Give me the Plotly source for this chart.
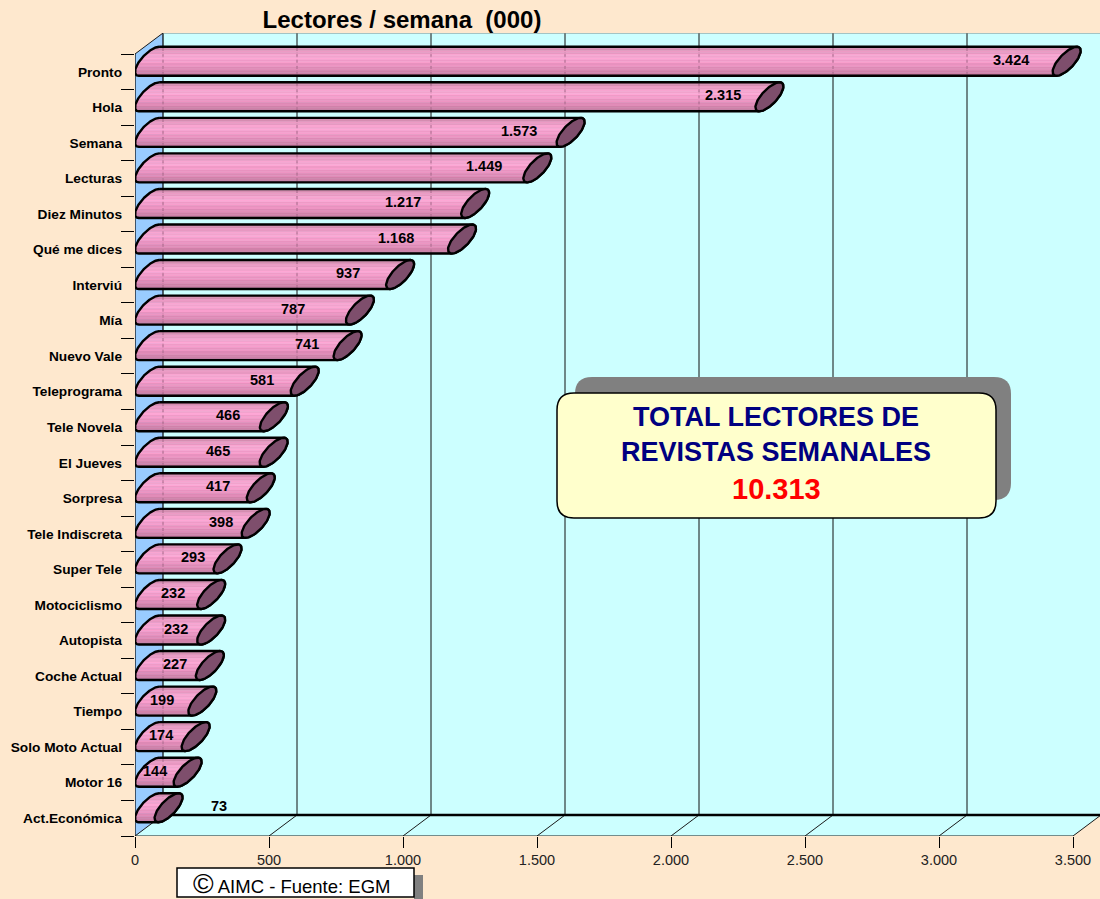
import numpy as np
import plotly.graph_objects as go

# ---------------- data ----------------
CATEGORIES = ["Pronto", "Hola", "Semana", "Lecturas", "Diez Minutos", "Qué me dices",
              "Interviú", "Mía", "Nuevo Vale", "Teleprograma", "Tele Novela", "El Jueves",
              "Sorpresa", "Tele Indiscreta", "Super Tele", "Motociclismo", "Autopista",
              "Coche Actual", "Tiempo", "Solo Moto Actual", "Motor 16", "Act.Económica"]
READERS = [3424, 2315, 1573, 1449, 1217, 1168, 937, 787, 741, 581, 466, 465,
           417, 398, 293, 232, 232, 227, 199, 174, 144, 73]
X_TICKS = [0, 500, 1000, 1500, 2000, 2500, 3000, 3500]
X_TICK_TEXT = ["0", "500", "1.000", "1.500", "2.000", "2.500", "3.000", "3.500"]
TITLE = "Lectores / semana \u00a0(000)"
BOX_LINES = ["TOTAL LECTORES DE", "REVISTAS SEMANALES"]
TOTAL_TEXT = "10.313"
SOURCE_TEXT = "AIMC - Fuente: EGM"

# label placement nudges (pixels back from bar end) - style only
LABEL_BACK_PX = [42, 32, 38, 39, 58, 52, 38, 53, 27, 29, 32, 42, 29, 21, 21, 24, 21, 21, 26, 21, 19, -64]

# ---------------- geometry ----------------
W, H = 1100, 899
ML, MR, MT, MB = 135, 0, 33, 63
PXX = (1073 - 135) / 3500.0          # px per value unit
NCAT = len(CATEGORIES)
PXU = (836 - 54) / NCAT               # px per category unit
XMAX = (W - ML - MR) / PXX
DX = 28 / PXX                         # depth offset in x units
DU = 21 / PXU                         # depth offset in category units (upwards)
UTOP = -DU

FONT = "Liberation Sans, Arial, sans-serif"


def px2paper(px, py):
    return (px - ML) / (W - ML - MR), (H - MB - py) / (H - MT - MB)


# cylinder cross-section
h = 0.5 * DU
A = 10.0 / PXU
R = np.hypot(h, A)
t1 = np.arctan2(-h, A)


def ell(t):
    return 0.5 * DX + 0.5 * DX * np.sin(t), -h - h * np.sin(t) + A * np.cos(t)


tl = np.linspace(t1 + np.pi, t1 + 2 * np.pi, 90)
left_x, left_u = ell(tl)                 # top -> bottom
tr = np.linspace(t1, t1 + np.pi, 90)
right_x, right_u = ell(tr)               # bottom -> top
rx_inc, ru_inc = right_x[::-1], right_u[::-1]
tc = np.linspace(0, 2 * np.pi, 90)
cap_x, cap_u = ell(tc)

# gradient profile (top -> bottom)
prof_pos = [0.0, 0.15, 0.35, 0.5, 0.7, 0.85, 1.0]
prof_rgb = [(0xC9, 0x86, 0xA6), (0xE6, 0x96, 0xBF), (0xF8, 0xA6, 0xD2), (0xF5, 0x9C, 0xCA),
            (0xE4, 0x8E, 0xBB), (0xD4, 0x84, 0xAC), (0xB8, 0x74, 0x98)]
NS = 16
levels = np.linspace(-h - R, -h + R, NS + 1)

fig = go.Figure()

for j in range(NS):
    f = (j + 0.5) / NS
    rgb = [np.interp(f, prof_pos, [c[k] for c in prof_rgb]) for k in range(3)]
    m = 1.03 if j % 2 == 0 else 0.98
    rgb = [int(max(0, min(255, c * m))) for c in rgb]
    col = "rgb(%d,%d,%d)" % tuple(rgb)
    ul = np.linspace(levels[j], levels[j + 1], 6)
    xl = np.interp(ul, left_u, left_x)
    xr = np.interp(ul, ru_inc, rx_inc)
    xs, us = [], []
    for i, v in enumerate(READERS):
        c = i + 0.5
        xs += list(xl) + list((xr + v)[::-1]) + [None]
        us += list(ul + c) + list((ul + c)[::-1]) + [None]
    fig.add_trace(go.Scatter(x=xs, y=us, mode="lines", fill="toself", fillcolor=col,
                             line=dict(color=col, width=0.8), hoverinfo="skip", showlegend=False))

# dotted grid seen through bars
dx_, du_ = [], []
for i, v in enumerate(READERS):
    c = i + 0.5
    for k in range(7):
        gx = 500 * k + DX
        if v > gx:
            dx_ += [gx, gx, None]
            du_ += [c - h - R + 0.03, c - h + R - 0.03, None]
fig.add_trace(go.Scatter(x=dx_, y=du_, mode="lines", line=dict(color="#A86A8C", width=1, dash="dot"),
                         hoverinfo="skip", showlegend=False))

# body outlines
ox, ou = [], []
for i, v in enumerate(READERS):
    c = i + 0.5
    ox += list(left_x) + list(right_x + v) + [left_x[0], None]
    ou += list(left_u + c) + list(right_u + c) + [left_u[0] + c, None]
fig.add_trace(go.Scatter(x=ox, y=ou, mode="lines", line=dict(color="black", width=2.4),
                         hoverinfo="skip", showlegend=False))

# end caps
cx, cu = [], []
for i, v in enumerate(READERS):
    c = i + 0.5
    cx += list(cap_x + v) + [None]
    cu += list(cap_u + c) + [None]
fig.add_trace(go.Scatter(x=cx, y=cu, mode="lines", fill="toself", fillcolor="#7E4E6C",
                         line=dict(color="black", width=2.4), hoverinfo="skip", showlegend=False))

# value labels
for i, v in enumerate(READERS):
    fig.add_annotation(x=v - LABEL_BACK_PX[i] / PXX, y=i + 0.5 - h - 0.04, xref="x", yref="y",
                       text="<b>%s</b>" % f"{v:,}".replace(",", "."), showarrow=False,
                       font=dict(family=FONT, size=14.5, color="black"),
                       xanchor="center", yanchor="middle")

# ---------------- walls / floor shapes ----------------
shapes = []
BACK = "#CCFFFF"
shapes.append(dict(type="rect", xref="x", yref="y", x0=DX, x1=XMAX + 50, y0=UTOP, y1=NCAT - DU,
                   fillcolor=BACK, line=dict(width=0), layer="below"))
shapes.append(dict(type="path", xref="x", yref="y",
                   path="M %f,%f L %f,%f L %f,%f L %f,%f Z" % (0, NCAT, 3500, NCAT, 3500 + DX, NCAT - DU, DX, NCAT - DU),
                   fillcolor=BACK, line=dict(width=0), layer="below"))
shapes.append(dict(type="path", xref="x", yref="y",
                   path="M %f,%f L %f,%f L %f,%f L %f,%f Z" % (0, 0, DX, -DU, DX, NCAT - DU, 0, NCAT),
                   fillcolor="#99CCFF", line=dict(width=0), layer="below"))
# back wall grid lines
for k in range(1, 7):
    gx = 500 * k + DX
    shapes.append(dict(type="line", xref="x", yref="y", x0=gx, x1=gx, y0=UTOP, y1=NCAT - DU,
                       line=dict(color="#111111", width=1), layer="below"))
# floor diagonals
for k in range(0, 8):
    shapes.append(dict(type="line", xref="x", yref="y", x0=500 * k, x1=500 * k + DX, y0=NCAT, y1=NCAT - DU,
                       line=dict(color="#1A1A1A", width=1), layer="below"))
# back edges
shapes.append(dict(type="line", xref="x", yref="y", x0=DX, x1=DX, y0=UTOP, y1=NCAT - DU,
                   line=dict(color="black", width=1.2), layer="below"))
shapes.append(dict(type="line", xref="x", yref="y", x0=DX, x1=XMAX + 50, y0=NCAT - DU, y1=NCAT - DU,
                   line=dict(color="black", width=2.5), layer="below"))
shapes.append(dict(type="line", xref="x", yref="y", x0=DX, x1=XMAX + 50, y0=UTOP, y1=UTOP,
                   line=dict(color="#7A8A8A", width=1), layer="below"))
shapes.append(dict(type="line", xref="x", yref="y", x0=0, x1=DX, y0=0, y1=-DU,
                   line=dict(color="#1A1A1A", width=1), layer="below"))
shapes.append(dict(type="line", xref="x", yref="y", x0=0, x1=0, y0=0, y1=NCAT,
                   line=dict(color="black", width=1.2), layer="below"))
shapes.append(dict(type="line", xref="x", yref="y", x0=0, x1=3500, y0=NCAT, y1=NCAT,
                   line=dict(color="#1A1A1A", width=1), layer="below"))


def rr_path(x0, y0, x1, y1, r):
    def P(px, py):
        a, b = px2paper(px, py)
        return "%f,%f" % (a, b)
    return ("M " + P(x0 + r, y0) + " L " + P(x1 - r, y0) + " Q " + P(x1, y0) + " " + P(x1, y0 + r) +
            " L " + P(x1, y1 - r) + " Q " + P(x1, y1) + " " + P(x1 - r, y1) +
            " L " + P(x0 + r, y1) + " Q " + P(x0, y1) + " " + P(x0, y1 - r) +
            " L " + P(x0, y0 + r) + " Q " + P(x0, y0) + " " + P(x0 + r, y0) + " Z")


# total box
shapes.append(dict(type="path", xref="paper", yref="paper", path=rr_path(575, 377, 1011, 500, 17),
                   fillcolor="#808080", line=dict(width=0), layer="above"))
shapes.append(dict(type="path", xref="paper", yref="paper", path=rr_path(557, 393, 996, 518, 17),
                   fillcolor="#FFFFCC", line=dict(color="black", width=1.5), layer="above"))
# source box
a0, b0 = px2paper(414, 875)
a1, b1 = px2paper(423, 899)
shapes.append(dict(type="rect", xref="paper", yref="paper", x0=a0, x1=a1, y0=b1, y1=b0,
                   fillcolor="#808080", line=dict(width=0), layer="above"))
a0, b0 = px2paper(177, 868)
a1, b1 = px2paper(414, 897)
shapes.append(dict(type="rect", xref="paper", yref="paper", x0=a0, x1=a1, y0=b1, y1=b0,
                   fillcolor="white", line=dict(color="black", width=1.5), layer="above"))

for txt, py in zip(BOX_LINES, [417, 452]):
    a, b = px2paper(776, py)
    fig.add_annotation(x=a, y=b, xref="paper", yref="paper", text="<b>%s</b>" % txt, showarrow=False,
                       font=dict(family=FONT, size=27, color="#000080"), xanchor="center", yanchor="middle")
a, b = px2paper(776, 489)
fig.add_annotation(x=a, y=b, xref="paper", yref="paper", text="<b>%s</b>" % TOTAL_TEXT, showarrow=False,
                   font=dict(family=FONT, size=29, color="#FF0000"), xanchor="center", yanchor="middle")
a, b = px2paper(291, 883)
fig.add_annotation(x=a, y=b, xref="paper", yref="paper",
                   text="<span style='font-size:28px'>©</span> " + SOURCE_TEXT, showarrow=False,
                   font=dict(family=FONT, size=18.5, color="black"), xanchor="center", yanchor="middle")

fig.update_layout(
    width=W, height=H,
    margin=dict(l=ML, r=MR, t=MT, b=MB, pad=0),
    paper_bgcolor="#FEE8CE", plot_bgcolor="rgba(0,0,0,0)",
    shapes=shapes,
    title=dict(text="<b>%s</b>" % TITLE, x=402 / W, xanchor="center", y=1 - 19.5 / H, yanchor="middle",
               xref="container", yref="container", font=dict(family=FONT, size=24, color="black")),
    xaxis=dict(range=[0, XMAX], tickmode="array", tickvals=X_TICKS, ticktext=X_TICK_TEXT,
               ticks="outside", ticklen=11, tickcolor="black", tickwidth=1,
               showgrid=False, zeroline=False, showline=False, fixedrange=True,
               tickfont=dict(family=FONT, size=14.5, color="#222")),
    yaxis=dict(range=[NCAT, UTOP], tickmode="array", tickvals=[i + 0.5 for i in range(NCAT)],
               ticktext=CATEGORIES, ticks="", showgrid=False, zeroline=False, showline=False,
               ticklabelstandoff=12, fixedrange=True,
               minor=dict(tickmode="array", tickvals=list(range(NCAT + 1)), ticks="outside",
                          ticklen=13, tickcolor="black", tickwidth=1),
               tickfont=dict(family=FONT, size=13.7, color="black", weight="bold")),
)

fig.write_html("out.html", config={"displayModeBar": False},
               post_script="document.body.style.margin='0';document.body.style.padding='0';"
                           "document.body.style.overflow='hidden';")
